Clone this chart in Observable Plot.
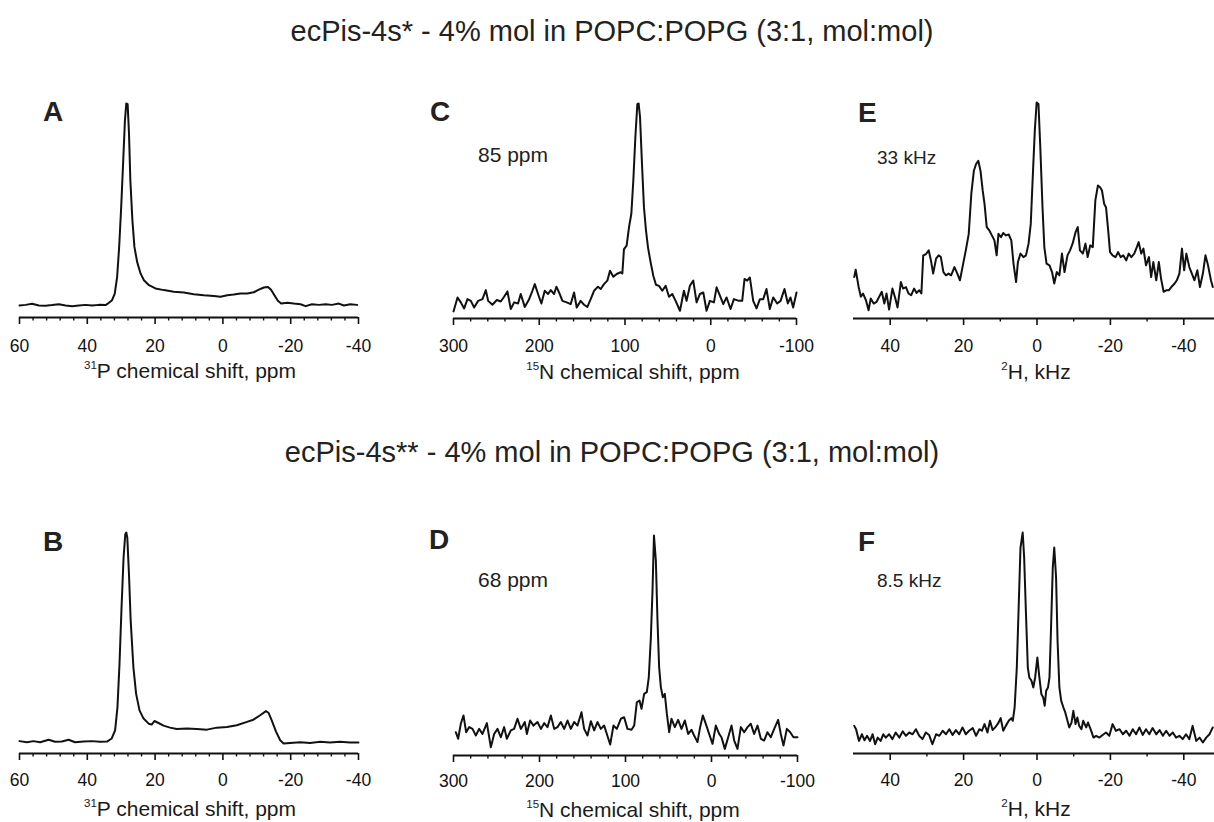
<!DOCTYPE html>
<html><head><meta charset="utf-8">
<script src="https://cdn.jsdelivr.net/npm/d3@7"></script>
<script src="https://cdn.jsdelivr.net/npm/@observablehq/plot@0.6"></script>
<style>
body{margin:0;background:#fff;font-family:"Liberation Sans",Arial,sans-serif;color:#1a1a1a;}
#fig{position:relative;width:1214px;height:822px;overflow:hidden;background:#fff;}
.t{position:absolute;white-space:nowrap;line-height:1;}
.sup{font-size:0.55em;position:relative;top:-0.75em;}
</style></head><body><div id="fig"></div>
<script>
// Row titles
const rowTitles = ["ecPis-4s* - 4% mol in POPC:POPG (3:1, mol:mol)", "ecPis-4s** - 4% mol in POPC:POPG (3:1, mol:mol)"];
const panelLetters = ["A", "C", "E", "B", "D", "F"];
const annotations = [null, "85 ppm", "33 kHz", null, "68 ppm", "8.5 kHz"];
const axisNuclei = ["31", "15", "2", "31", "15", "2"];
const axisTitles = ["P chemical shift, ppm", "N chemical shift, ppm", "H, kHz", "P chemical shift, ppm", "N chemical shift, ppm", "H, kHz"];

// Tick values
const pMajor = [60, 40, 20, 0, -20, -40];
const pMinor = [56, 52, 48, 44, 36, 32, 28, 24, 16, 12, 8, 4, -4, -8, -12, -16, -24, -28, -32, -36];
const nMajor = [300, 200, 100, 0, -100];
const nMinor = [280, 260, 240, 220, 180, 160, 140, 120, 80, 60, 40, 20, -20, -40, -60, -80];
const hMajor = [40, 20, 0, -20, -40];
const hMinor = [30, 10, -10, -30];

// Spectra: [shift, intensity (a.u.)]
const specA = [[60,5.6],[58.2,5.9],[56.3,6.4],[54.3,5.6],[52.3,5.5],[50.4,5.8],[48.4,6.2],[46.4,5.6],[44.5,5.3],[42.5,5.6],[40.5,5.9],[38.6,5.6],[36.6,5.9],[34.6,5.8],[33.6,6.9],[32.7,8.1],[31.9,11.2],[31.2,19],[30.6,33],[30.0,51.7],[29.4,73.5],[28.9,92],[28.5,100],[28.1,99.7],[27.7,86],[27.3,64],[26.7,45.5],[26.1,33],[25.3,26],[24.3,20.6],[23.3,17.4],[21.8,15.1],[19.9,13.6],[17.4,12.8],[14.5,12],[11.5,11.7],[8.6,10.9],[5.6,10.4],[2.7,10.1],[0.7,9.7],[-1.3,10.4],[-3.2,10.7],[-5.2,11.2],[-7.2,11.2],[-9.1,11.8],[-10.6,13],[-12.1,14],[-13.3,14.3],[-14.2,13],[-15.2,10.4],[-16.2,7.8],[-17.2,6.5],[-19,6.9],[-20.9,6.5],[-22.9,6.2],[-24.4,5.3],[-26.3,6.2],[-28.3,5.9],[-30.3,6.2],[-32.2,5.9],[-34.2,6.5],[-35.7,5.6],[-37.6,6.2],[-39.6,5.9]];

const specB = [[60,5.6],[57.8,5.1],[55.9,5.6],[53.9,5.1],[51.4,6.2],[49.5,5.3],[47.5,5.4],[45.5,6.2],[43.6,5.1],[41.1,5.4],[38.7,5.6],[36.2,5.3],[34.2,5.4],[32.8,6.8],[31.8,10.5],[31.1,21],[30.5,40.6],[29.9,66],[29.3,88.7],[28.8,99.2],[28.5,100],[28.2,97.7],[27.7,81],[27.2,60],[26.4,39],[25.6,27],[24.6,19.5],[23.4,15.8],[21.9,13.5],[21.0,13.1],[20.2,14.7],[19.0,13.8],[17.5,12.6],[15.6,11.7],[13.6,11.1],[10.6,11.3],[7.7,11.1],[4.7,10.8],[1.8,11.7],[-1.2,12],[-4.1,12.8],[-7.1,14.3],[-9.0,15.3],[-11.0,17.3],[-12.7,19.2],[-13.5,18.3],[-14.4,15],[-15.7,9.8],[-16.9,6],[-17.9,4.5],[-19.8,4.8],[-22.8,5.1],[-25.7,4.8],[-28.7,5.3],[-31.6,5],[-34.6,5.3],[-37.5,5],[-40,5]];

const specC = [[300,3.3],[295.3,9.8],[291.5,7.5],[287.6,4.7],[283.7,9],[279.8,8.2],[275.9,5.1],[271.3,8.2],[266.2,9],[262.3,13.2],[259.6,8.2],[254.6,6.4],[249.5,8.6],[244.9,7.9],[241,10.1],[237.1,12.6],[233.2,4.4],[229.3,7.5],[224.7,7],[221.6,11.4],[216.9,5.4],[211.8,9],[208,12.9],[205.2,16],[201.4,11.4],[197.5,7],[193.6,12.9],[189.7,11.4],[186.6,13.2],[182.7,11.4],[180,14.8],[176.9,12.1],[173,8.2],[168,7.5],[163.3,6.7],[159.4,12.1],[156.3,5.1],[151.7,8.2],[147.8,6.4],[143.9,5.4],[140,9],[136.1,12.9],[131.5,14.8],[128.3,13.7],[124.5,16],[120.6,17.6],[117.5,22.2],[113.6,19.4],[109.7,20.7],[105.1,21.5],[103.1,21],[101.2,32.3],[98.1,33.9],[95.3,42.5],[92.6,48.7],[90.3,64.2],[87.9,84.4],[85.6,99.7],[84.1,100],[82.5,93.8],[80.2,72],[77.9,51.8],[75.5,40.9],[73.2,33.1],[70.1,26.1],[67,19.9],[63.9,15.7],[60.4,15.2],[56.5,12.9],[52.6,15.2],[48.7,10.1],[44.9,11.4],[41,8.2],[35.9,3.6],[31.3,12.9],[28.2,8.2],[24.3,15.2],[20.4,17.6],[16.5,7.5],[12.6,11.4],[8.7,12.1],[4.9,3.6],[1,8.2],[-3.7,7.5],[-6.8,14.5],[-10.7,10.6],[-14.6,6.7],[-18.4,9.8],[-23.1,4.4],[-27,9],[-32.8,8.2],[-36.7,8.2],[-39.4,18.4],[-42.5,17.6],[-45.6,19.1],[-49.5,8.2],[-53.4,4.7],[-57.3,9],[-61.2,9],[-65,13.7],[-68.9,4.4],[-72.8,9.8],[-77.5,7],[-81.4,8.2],[-86,13.7],[-89.9,7],[-93,9.8],[-96.1,5.1],[-100,12.1]];

const specD = [[297.3,10.6],[294.6,7.6],[291.5,14.4],[288.4,18.2],[285.3,10.6],[281.8,12.9],[277.9,12.1],[274,9.1],[270.2,12.1],[266.3,9.8],[261.2,14.7],[256.6,3.8],[252.7,9.8],[248.8,12.1],[245,8.3],[241.1,12.9],[238,7.6],[233.3,11.4],[229.5,12.1],[225.6,16.7],[221.7,12.1],[217.1,15.2],[214.7,9.8],[210.9,15.9],[207,13.6],[202.3,15.2],[198.4,12.1],[194.6,14.7],[190.7,12.9],[186.8,18.2],[182.9,12.1],[179.1,12.9],[175.2,15.2],[171.3,12.1],[167.4,15.9],[163.6,12.1],[159.7,15.2],[155.8,13.6],[151.2,19.7],[148.1,12.1],[144.2,9.1],[140.3,15.6],[136.4,11.4],[132.6,15.2],[128.7,12.1],[124.8,13.6],[121.7,9.8],[117.8,5],[114,13.6],[110.1,12.1],[105.4,16.7],[101.6,17.4],[97.7,12.1],[93,11.7],[89.9,13.6],[86.8,24.2],[83.7,25],[81.4,21.2],[78.3,28],[75.2,28.8],[72.9,35.6],[70.5,53.8],[68.6,75],[66.9,100],[64.7,88.6],[62.8,61.4],[60.9,40.2],[58.9,31.1],[56.6,26.5],[54.3,28],[51.9,18.9],[49.2,10.6],[46.5,16.7],[42.6,12.9],[38.8,16.2],[34.9,12.1],[31,15.9],[27.1,9.8],[23.3,11.7],[20.2,9.1],[16.3,6.1],[13.2,12.9],[10.1,18.2],[6.6,14.4],[2.7,9.8],[-1.2,5.3],[-5,13.6],[-8.9,9.8],[-11.6,8.3],[-15.5,3],[-19.4,8.3],[-23.3,13.6],[-26.4,6.8],[-30.2,3],[-34.1,12.9],[-38,10.6],[-41.9,12.9],[-45.7,14.4],[-49.6,9.8],[-53.5,13.6],[-57.4,7.6],[-61.2,6.8],[-65.1,10.6],[-69,8.3],[-72.9,12.1],[-77.5,16.2],[-80.6,9.8],[-83.7,4.5],[-87.6,12.1],[-91.5,10.6],[-95.3,8.3],[-100,8.3]];

const specE = [[49.8,19.1],[49.4,22.5],[48.6,14.5],[48,10],[47.4,11.5],[46.6,8.4],[45.9,3.8],[45.3,9.2],[44.5,6.9],[43.7,7.7],[43,10],[42.3,12.3],[41.6,6.9],[41,11.5],[40.3,4.1],[39.4,13.8],[38.6,9.2],[38,5.1],[37.1,16.8],[36.5,13.8],[35.7,14.5],[35,11.5],[34.3,10.7],[33.5,13.8],[32.8,11.8],[32.1,13],[31.5,11.5],[31,29.1],[30.3,29.6],[29.5,31.4],[28.9,26.8],[28.3,20.7],[27.5,27.6],[26.8,29.1],[26.2,28.3],[25.5,21.4],[24.8,19.9],[24.1,20.7],[23.4,19.9],[22.5,23.7],[21.7,20.7],[21,17.6],[20.3,23.7],[19.4,31.4],[18.6,39],[17.9,57.4],[17.2,68.1],[16.6,71.2],[16,72.7],[15.4,68.1],[14.8,59],[14.3,52.8],[13.7,42.1],[13,40.6],[12.3,38.3],[11.6,36],[11,29.1],[10.5,39],[9.8,37.5],[9.2,39.4],[8.5,38.3],[7.7,38.7],[7,36],[6.4,25.3],[5.7,16.8],[5.2,26],[4.5,29.9],[3.7,28.3],[3,29.1],[2.3,34.5],[1.7,43.6],[1.2,63.6],[0.6,86.5],[0.1,99.5],[-0.4,98.8],[-0.9,78.9],[-1.5,51.3],[-2,32.9],[-2.6,25.3],[-3.4,24.5],[-4.1,21.4],[-4.7,16.1],[-5.4,21.4],[-6.1,19.9],[-6.8,29.9],[-7.5,21.4],[-8.3,29.1],[-9,31.4],[-9.7,34.5],[-10.5,39.8],[-11.1,42.1],[-11.7,31.4],[-12.5,29.9],[-13.2,34.5],[-13.8,28.3],[-14.5,33.7],[-15.2,32.9],[-15.9,54.4],[-16.6,61.3],[-17.2,60.5],[-17.7,59],[-18.3,52.8],[-18.8,51.3],[-19.4,40.6],[-19.9,30.6],[-20.6,29.1],[-21.4,28.3],[-22.1,30.6],[-22.8,28.3],[-23.5,29.1],[-24.3,26.8],[-25,29.9],[-25.7,28.3],[-26.5,29.9],[-27.2,32.9],[-27.7,35.2],[-28.4,29.9],[-29,32.2],[-29.7,24.5],[-30.5,28.3],[-31.1,19.1],[-31.7,26],[-32.5,17.6],[-33.2,26],[-33.8,18.4],[-34.5,12.3],[-35.2,13],[-35.9,13],[-36.6,14.5],[-37.5,16.1],[-38.1,17.6],[-38.8,20.7],[-39.5,32.2],[-40.1,22.2],[-40.7,29.9],[-41.5,23.7],[-42.2,20.7],[-42.9,17.6],[-43.7,22.2],[-44.4,14.5],[-45.2,20.7],[-45.9,29.1],[-46.6,24.5],[-47.4,17.6],[-47.9,14.5]];

const specF = [[49.8,12.5],[49.3,11],[48.5,5.7],[47.7,8.7],[47,6],[46.3,8],[45.5,5.7],[44.8,8.7],[44.1,4.2],[43.4,7.2],[42.6,5.7],[41.9,8.7],[41.2,7.2],[40.3,8.7],[39.4,6.5],[38.5,9.5],[37.5,7.2],[36.6,10],[35.7,8],[34.8,9.5],[33.9,8.7],[33,11],[32.1,8],[31.2,6.5],[30.3,9.5],[29.4,8.4],[28.5,4.2],[27.5,8.7],[26.6,8],[25.7,10.3],[24.8,8.7],[23.9,11],[23,8.4],[22.1,10.6],[21.2,8.7],[20.3,11.8],[19.4,8.7],[18.5,10.3],[17.5,11.5],[16.6,8],[15.7,11],[15,10.3],[14.3,13.3],[13.5,9.5],[12.8,14.8],[12.1,10.6],[11.4,11.8],[10.6,13.6],[9.9,16],[9.2,10.3],[8.5,12.5],[7.7,14.8],[7,16],[6.6,14.8],[6.1,20.8],[5.5,38.9],[5,66.1],[4.5,93.2],[3.9,100],[3.5,88.7],[3,63],[2.5,38.9],[2.1,34.4],[1.5,32.9],[1,29.9],[0.5,34.4],[-0.1,43.4],[-0.6,35.1],[-1.2,26.8],[-1.7,25.3],[-2.1,21.6],[-2.5,28.4],[-3,29.9],[-3.4,34.4],[-3.8,55.5],[-4.3,84.2],[-4.7,93.2],[-5.2,79.6],[-5.6,51],[-6.1,29.9],[-6.6,23.8],[-7.2,20.8],[-7.7,18.6],[-8.3,14.8],[-8.8,11.8],[-9.4,14],[-9.9,19.3],[-10.5,13.3],[-11,16.3],[-11.5,12.5],[-12.1,11],[-12.6,14.8],[-13.4,11.8],[-13.9,14],[-14.6,11],[-15.4,7.2],[-16.1,8],[-17,7.2],[-17.9,8.4],[-18.8,9.5],[-19.7,8],[-20.6,13.3],[-21.5,10.3],[-22.5,11],[-23.4,8.7],[-24.3,10.3],[-25.2,8],[-26.1,11],[-27,8.7],[-27.9,11.8],[-28.8,8.4],[-29.7,11],[-30.6,8.7],[-31.5,11.5],[-32.5,8.7],[-33.4,10.6],[-34.3,8],[-35.2,10.3],[-36.1,8],[-37,9.5],[-37.9,7.2],[-38.8,8],[-39.7,6.5],[-40.6,8.7],[-41.5,6.5],[-42.4,12.5],[-43.4,5.7],[-44.3,7.2],[-45.2,5],[-46.1,7.2],[-47,8.7],[-47.9,11.8]];

const fig = document.getElementById("fig");

function addText(html, opts) {
  const d = document.createElement("div");
  d.className = "t";
  d.innerHTML = html;
  d.style.fontSize = opts.size + "px";
  d.style.top = (opts.cy - 0.49 * opts.size) + "px";
  if (opts.cx != null) { d.style.left = opts.cx + "px"; d.style.transform = "translateX(-50%)"; }
  else d.style.left = opts.x + "px";
  if (opts.bold) d.style.fontWeight = "bold";
  if (opts.color) d.style.color = opts.color;
  fig.appendChild(d);
}

// layout (page pixels)
const layout = [
  {spec: specA, domain: [60, -40], major: pMajor, minor: pMinor, x0: 19, x1: 358, axisY: 317, peakY: 103, pad: 15, letter: [43, 112], note: null, titleX: 190, titleY: 370},
  {spec: specC, domain: [300, -100], major: nMajor, minor: nMinor, x0: 453, x1: 796, axisY: 318, peakY: 103, pad: 14, letter: [430, 112], note: [478, 154, 21], titleX: 633, titleY: 371},
  {spec: specE, domain: [50, -50], major: hMajor, minor: hMinor, x0: 853, x1: 1220, axisY: 318, peakY: 101, pad: 14, letter: [858, 113], note: [877, 157, 19], titleX: 1036, titleY: 371},
  {spec: specB, domain: [60, -40], major: pMajor, minor: pMinor, x0: 19, x1: 358, axisY: 753, peakY: 532, pad: 13, letter: [43, 542], note: null, titleX: 190, titleY: 808},
  {spec: specD, domain: [300, -100], major: nMajor, minor: nMinor, x0: 453, x1: 797, axisY: 755, peakY: 535, pad: 12, letter: [429, 540], note: [478, 579, 21], titleX: 633, titleY: 809},
  {spec: specF, domain: [50, -50], major: hMajor, minor: hMinor, x0: 853, x1: 1220, axisY: 753, peakY: 532, pad: 13, letter: [858, 542], note: [877, 580, 19], titleX: 1036, titleY: 808}
];

const m = 20, mT = 10, mB = 45;
layout.forEach((p, i) => {
  const w = (p.x1 - p.x0) + 2 * m;
  const h = (p.axisY - p.peakY) + mT + mB;
  const svg = Plot.plot({
    width: w, height: h,
    marginLeft: m, marginRight: m, marginTop: mT, marginBottom: mB,
    x: {domain: p.domain},
    y: {domain: [0, 100], axis: null},
    style: {background: "transparent", color: "#111", fontFamily: "'Liberation Sans', Arial, sans-serif", overflow: "visible"},
    marks: [
      Plot.axisX({ticks: p.minor, tickSize: 3.5, tickFormat: () => "", label: null, strokeWidth: 1.4}),
      Plot.axisX({ticks: p.major, tickSize: 7, tickPadding: p.pad, fontSize: 17.5, tickFormat: d => String(d), label: null, strokeWidth: 1.6}),
      Plot.ruleY([0], {strokeWidth: 2.2}),
      Plot.line(p.spec, {x: d => d[0], y: d => d[1], strokeWidth: 2})
    ]
  });
  svg.style.maxWidth = "none";
  const wrap = document.createElement("div");
  wrap.style.position = "absolute";
  wrap.style.left = (p.x0 - m) + "px";
  wrap.style.top = (p.peakY - mT) + "px";
  wrap.style.width = w + "px";
  wrap.appendChild(svg);
  fig.appendChild(wrap);

  addText(panelLetters[i], {x: p.letter[0], cy: p.letter[1], size: 28, bold: true, color: "#222"});
  if (p.note) addText(annotations[i], {x: p.note[0], cy: p.note[1], size: p.note[2], color: "#222"});
  addText(`<span class="sup">${axisNuclei[i]}</span>${axisTitles[i]}`, {cx: p.titleX, cy: p.titleY, size: 21, color: "#1a1a1a"});
});

addText(rowTitles[0], {cx: 612, cy: 31, size: 29, color: "#222"});
addText(rowTitles[1], {cx: 612, cy: 452, size: 29, color: "#222"});
</script></body></html>
